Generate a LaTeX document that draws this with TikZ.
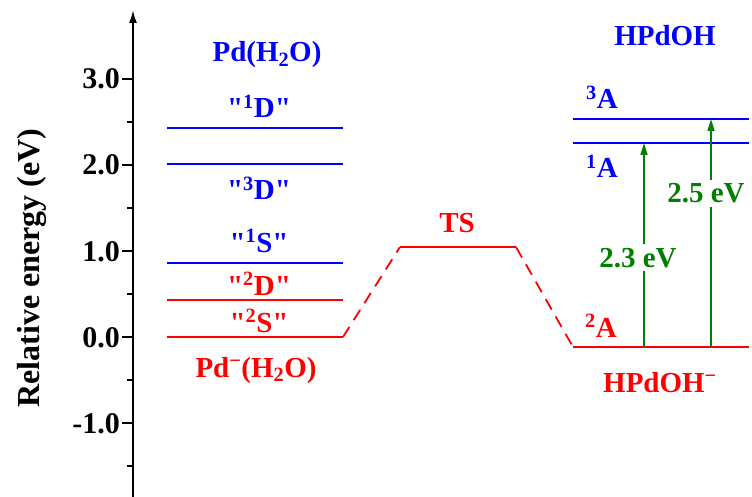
\documentclass[tikz,border=0pt]{standalone}
\usepackage{fontspec}
\setmainfont{Liberation Serif}
\newfontfamily\qfont{Liberation Serif}
\usetikzlibrary{arrows.meta}
\definecolor{myblue}{RGB}{0,0,255}
\definecolor{myred}{RGB}{255,0,0}
\definecolor{mygreen}{RGB}{0,128,0}
\newcommand{\sq}{{\qfont\bfseries\char"22}}
\begin{document}
\begin{tikzpicture}[x=1pt,y=-1pt,
  lab/.style={font=\bfseries\fontsize{29}{34}\selectfont, inner sep=0pt},
  ticklab/.style={font=\bfseries\fontsize{30}{34}\selectfont, inner sep=0pt, anchor=base east},
  bluelev/.style={myblue, line width=1.8pt},
  redlev/.style={myred, line width=1.8pt},
  reddash/.style={myred, line width=1.8pt, dash pattern=on 12pt off 8pt},
  garrow/.style={mygreen, line width=1.6pt, -{Triangle[length=12pt,width=7pt]}},
  axisline/.style={black, line width=2pt, -{Latex[length=13pt,width=8pt]}},
  tickline/.style={black, line width=1.6pt}]
\useasboundingbox (0,0) rectangle (752,497);

% axis
\coordinate (axbot) at (133,497);
\coordinate (axtop) at (133,10);
\draw[axisline] (axbot) -- (axtop);
\foreach \yy/\tx in {79/3.0,165/2.0,251/1.0,337/0.0,423/-1.0}{
  \coordinate (mt\yy) at (133,\yy);
  \coordinate (mtl\yy) at (122,\yy);
  \draw[tickline] (mt\yy) -- (mtl\yy);
  \node[ticklab] (tl\yy) at (120,\yy+10) {\tx};
}
\foreach \yy in {122,208,294,380,466}{
  \coordinate (nt\yy) at (133,\yy);
  \coordinate (ntl\yy) at (127,\yy);
  \draw[tickline] (nt\yy) -- (ntl\yy);
}
\node[font=\bfseries\fontsize{32}{36}\selectfont, rotate=90, inner sep=0pt] (ylab) at (32,268) {Relative energy (eV)};

% left levels
\coordinate (d1L) at (167,128); \coordinate (d1R) at (343,128);
\coordinate (d3L) at (167,164); \coordinate (d3R) at (343,164);
\coordinate (s1L) at (167,263); \coordinate (s1R) at (343,263);
\coordinate (d2L) at (167,300); \coordinate (d2R) at (343,300);
\coordinate (s2L) at (167,337); \coordinate (s2R) at (343,337);
\draw[bluelev] (d1L) -- (d1R);
\draw[bluelev] (d3L) -- (d3R);
\draw[bluelev] (s1L) -- (s1R);
\draw[redlev] (d2L) -- (d2R);
\draw[redlev] (s2L) -- (s2R);

% TS
\coordinate (tsL) at (400,247); \coordinate (tsR) at (516,247);
\draw[redlev] (tsL) -- (tsR);

% right levels
\coordinate (a3L) at (573,119); \coordinate (a3R) at (749,119);
\coordinate (a1L) at (573,143); \coordinate (a1R) at (749,143);
\coordinate (a2L) at (573,347); \coordinate (a2R) at (749,347);
\draw[bluelev] (a3L) -- (a3R);
\draw[bluelev] (a1L) -- (a1R);
\draw[redlev] (a2L) -- (a2R);

% dashed connectors
\draw[reddash] (s2R) -- (tsL);
\draw[reddash] (tsR) -- (a2L);

% green arrows
\coordinate (g1b) at (644,347); \coordinate (g1t) at (644,143);
\coordinate (g2b) at (711,347); \coordinate (g2t) at (711,119);
\draw[garrow] (g1b) -- (g1t);
\draw[garrow] (g2b) -- (g2t);
\node[lab, mygreen, fill=white, inner xsep=1pt, inner ysep=4pt, anchor=base] (e23) at (638,267) {2.3 eV};
\node[lab, mygreen, fill=white, inner xsep=1pt, inner ysep=4pt, anchor=base] (e25) at (706,203) {2.5 eV};

% labels left
\node[lab, myblue, anchor=base] (pdh2o) at (267,62) {Pd(H\textsubscript{2}O)};
\node[lab, myblue, anchor=base] (l1d) at (259,118) {\sq\textsuperscript{1}D\sq};
\node[lab, myblue, anchor=base] (l3d) at (259,200) {\sq\textsuperscript{3}D\sq};
\node[lab, myblue, anchor=base] (l1s) at (259,252) {\sq\textsuperscript{1}S\sq};
\node[lab, myred, anchor=base] (l2d) at (259,295) {\sq\textsuperscript{2}D\sq};
\node[lab, myred, anchor=base] (l2s) at (259,332) {\sq\textsuperscript{2}S\sq};
\node[lab, myred, anchor=base] (pdm) at (256,377) {Pd\textsuperscript{\textminus}(H\textsubscript{2}O)};

% TS label
\node[lab, myred, anchor=base] (tslab) at (457,233) {TS};

% labels right
\node[lab, myblue, anchor=base] (hpdoh) at (665,46) {HPdOH};
\node[lab, myblue, anchor=base west] (l3a) at (586,109) {\textsuperscript{3}A};
\node[lab, myblue, anchor=base west] (l1a) at (586,178) {\textsuperscript{1}A};
\node[lab, myred, anchor=base west] (l2a) at (585,337) {\textsuperscript{2}A};
\node[lab, myred, anchor=base west] (hpdohm) at (603,392) {HPdOH\textsuperscript{\textminus}};
\end{tikzpicture}
\end{document}
